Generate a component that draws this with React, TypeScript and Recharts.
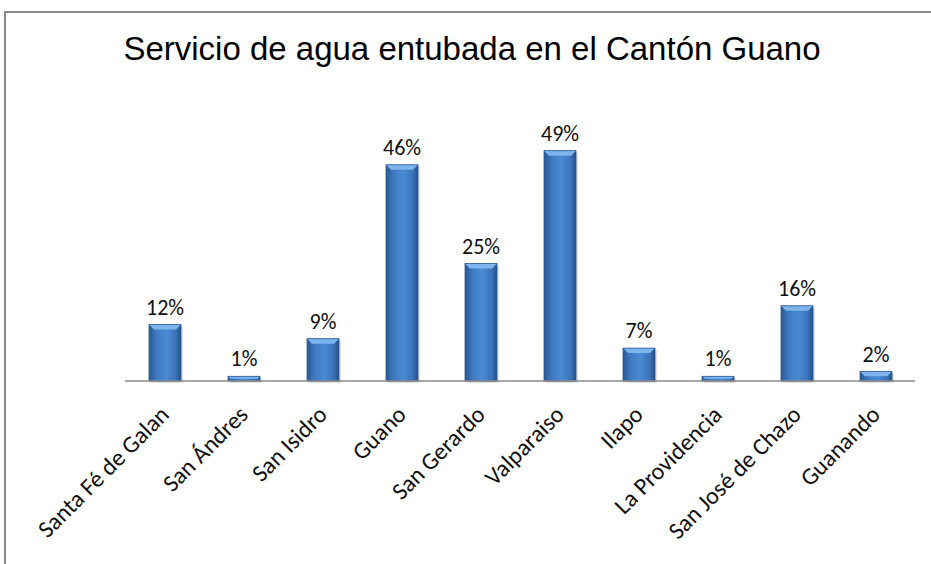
import { Bar, BarChart, LabelList, XAxis, YAxis } from "recharts"

const parroquias = [
  "Santa Fé de Galan",
  "San Ándres",
  "San Isidro",
  "Guano",
  "San Gerardo",
  "Valparaiso",
  "Ilapo",
  "La Providencia",
  "San José de Chazo",
  "Guanando",
]

const porcentajes = [12, 1, 9, 46, 25, 49, 7, 1, 16, 2]

const data = parroquias.map((name, i) => ({ name, valor: porcentajes[i] }))

const labelFont = "Carlito, Lato, 'Open Sans', sans-serif"

function BevelBar(props: any) {
  const { x, y, width, height } = props
  if (!height || height <= 0) return null
  const bevel = Math.min(5, height / 2)
  return (
    <g>
      <rect x={x + 2} y={y + 2} width={width} height={height} fill="#000" opacity={0.12} />
      <rect x={x} y={y} width={width} height={height} fill="url(#barGrad)" />
      <polygon
        points={`${x},${y} ${x + width},${y} ${x + width - bevel},${y + bevel} ${x + bevel},${y + bevel}`}
        fill="#7db4ee"
      />
      <rect x={x} y={y} width={width} height={height} fill="none" stroke="#2b5a94" strokeWidth={0.8} />
    </g>
  )
}

function RotatedTick(props: any) {
  const { x, y, payload } = props
  return (
    <g transform={`translate(${x + 6},${y + 27})`}>
      <text
        transform="rotate(-45)"
        textAnchor="end"
        fontFamily={labelFont}
        fontSize={24}
        fill="#111"
      >
        {payload.value}
      </text>
    </g>
  )
}

export default function App() {
  return (
    <div style={{ position: "absolute", left: 0, top: 0, width: 931, height: 564, background: "#fff", overflow: "hidden" }}>
      <div
        style={{
          position: "absolute",
          left: 4,
          top: 11,
          width: 940,
          height: 570,
          borderLeft: "2px solid #8a8a8a",
          borderTop: "2px solid #8a8a8a",
        }}
      />
      <div
        style={{
          position: "absolute",
          left: 0,
          top: 30,
          width: 944,
          textAlign: "center",
          fontFamily: "'Liberation Sans', Arial, sans-serif",
          fontSize: 33,
          lineHeight: "38px",
          color: "#000",
        }}
      >
        Servicio de agua entubada en el Cantón Guano
      </div>
      <div style={{ position: "absolute", left: 0, top: 0 }}>
        <BarChart
          width={931}
          height={564}
          data={data}
          margin={{ top: 146, right: 16, left: 125, bottom: 0 }}
          barCategoryGap="20%"
        >
          <defs>
            <linearGradient id="barGrad" x1="0" y1="0" x2="1" y2="0">
              <stop offset="0%" stopColor="#2a5893" />
              <stop offset="25%" stopColor="#3f7bc2" />
              <stop offset="55%" stopColor="#4a8ad4" />
              <stop offset="85%" stopColor="#3a72b6" />
              <stop offset="100%" stopColor="#244e85" />
            </linearGradient>
          </defs>
          <XAxis
            dataKey="name"
            interval={0}
            height={183}
            tickLine={false}
            axisLine={{ stroke: "#8a8a8a", strokeWidth: 1.5 }}
            tick={<RotatedTick />}
          />
          <YAxis hide domain={[0, 50]} />
          <Bar dataKey="valor" barSize={32} shape={<BevelBar />} isAnimationActive={false}>
            <LabelList
              dataKey="valor"
              position="top"
              offset={10}
              formatter={(v: any) => `${v}%`}
              style={{ fontFamily: labelFont, fontSize: 22, fill: "#111" }}
            />
          </Bar>
        </BarChart>
      </div>
    </div>
  )
}
